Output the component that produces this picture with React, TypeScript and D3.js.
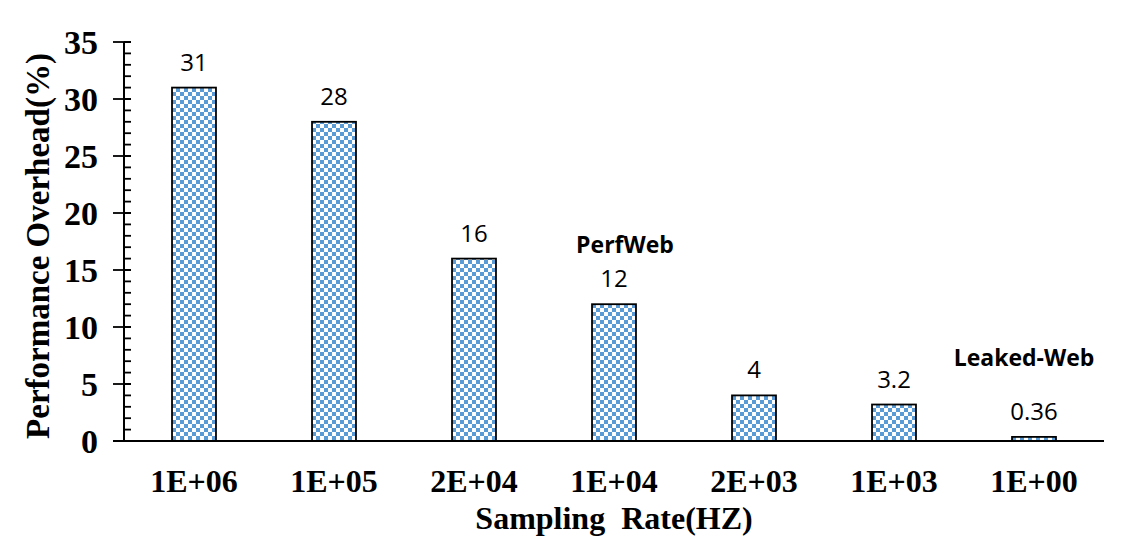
import React, { useEffect } from 'react';
import * as d3 from 'd3';

const categories = ['1E+06', '1E+05', '2E+04', '1E+04', '2E+03', '1E+03', '1E+00'];
const overhead = [31, 28, 16, 12, 4, 3.2, 0.36];
const valueLabels = ['31', '28', '16', '12', '4', '3.2', '0.36'];
const yTicks = [0, 5, 10, 15, 20, 25, 30, 35];
const annotations = [
  { text: 'PerfWeb', category: '1E+04', dx: 11, value: 16.5 },
  { text: 'Leaked-Web', category: '1E+00', dx: -10, value: 6.6 },
];

const W = 1131;
const H = 555;
const margin = { top: 42, right: 27, bottom: 114, left: 124 };
const serif = '"Liberation Serif", "Times New Roman", serif';
const sans = '"Open Sans", "Noto Sans", sans-serif';

export default function App() {
  useEffect(() => {
    document.body.style.margin = '0';
  }, []);

  const x = d3.scaleBand<string>()
    .domain(categories)
    .range([margin.left, W - margin.right])
    .paddingInner(0.686)
    .paddingOuter(0.343);

  const y = d3.scaleLinear()
    .domain([0, 35])
    .range([H - margin.bottom, margin.top]);

  const minorTicks = d3.range(0, 36, 1);
  const y0 = y(0);

  return (
    <svg width={W} height={H} style={{ display: 'block', background: '#fff' }}>
      <defs>
        <pattern id="checker" patternUnits="userSpaceOnUse" width={8} height={8}>
          <rect width={8} height={8} fill="#ffffff" />
          <rect x={0} y={0} width={4} height={4} fill="#5b9bd5" />
          <rect x={4} y={4} width={4} height={4} fill="#5b9bd5" />
        </pattern>
      </defs>

      {/* bars */}
      {categories.map((c, i) => (
        <rect
          key={c}
          x={x(c)}
          y={y(overhead[i])}
          width={x.bandwidth()}
          height={y0 - y(overhead[i])}
          fill="url(#checker)"
          stroke="#000"
          strokeWidth={1.8}
        />
      ))}

      {/* value labels */}
      {categories.map((c, i) => (
        <text
          key={'v' + c}
          x={(x(c) ?? 0) + x.bandwidth() / 2}
          y={y(overhead[i]) - 17}
          textAnchor="middle"
          fontFamily={sans}
          fontSize={24}
          fill="#000"
        >
          {valueLabels[i]}
        </text>
      ))}

      {/* y axis */}
      <line x1={margin.left} x2={margin.left} y1={y(35)} y2={y0} stroke="#000" strokeWidth={2} />
      {minorTicks.map((t) => (
        <line key={'m' + t} x1={margin.left} x2={margin.left + 7} y1={y(t)} y2={y(t)} stroke="#000" strokeWidth={1.8} />
      ))}
      {yTicks.map((t) => (
        <g key={'y' + t}>
          <line x1={margin.left - 11} x2={margin.left + 7} y1={y(t)} y2={y(t)} stroke="#000" strokeWidth={1.8} />
          <text
            x={98}
            y={y(t)}
            dy="0.35em"
            textAnchor="end"
            fontFamily={serif}
            fontWeight="bold"
            fontSize={34}
          >
            {t}
          </text>
        </g>
      ))}

      {/* x axis */}
      <line x1={margin.left - 11} x2={W - margin.right} y1={y0} y2={y0} stroke="#000" strokeWidth={2} />
      {categories.map((c) => (
        <text
          key={'x' + c}
          x={(x(c) ?? 0) + x.bandwidth() / 2}
          y={492}
          textAnchor="middle"
          fontFamily={serif}
          fontWeight="bold"
          fontSize={32}
        >
          {c}
        </text>
      ))}

      {/* axis titles */}
      <text
        x={614}
        y={529}
        textAnchor="middle"
        fontFamily={serif}
        fontWeight="bold"
        fontSize={32}
        style={{ whiteSpace: 'pre' }}
      >
        {'Sampling  Rate(HZ)'}
      </text>
      <text
        transform={`translate(49,246) rotate(-90)`}
        textAnchor="middle"
        fontFamily={serif}
        fontWeight="bold"
        fontSize={33}
      >
        Performance Overhead(%)
      </text>

      {/* annotations */}
      {annotations.map((a) => (
        <text
          key={a.text}
          x={(x(a.category) ?? 0) + x.bandwidth() / 2 + a.dx}
          y={y(a.value)}
          textAnchor="middle"
          fontFamily={sans}
          fontWeight="bold"
          fontSize={23}
        >
          {a.text}
        </text>
      ))}
    </svg>
  );
}
